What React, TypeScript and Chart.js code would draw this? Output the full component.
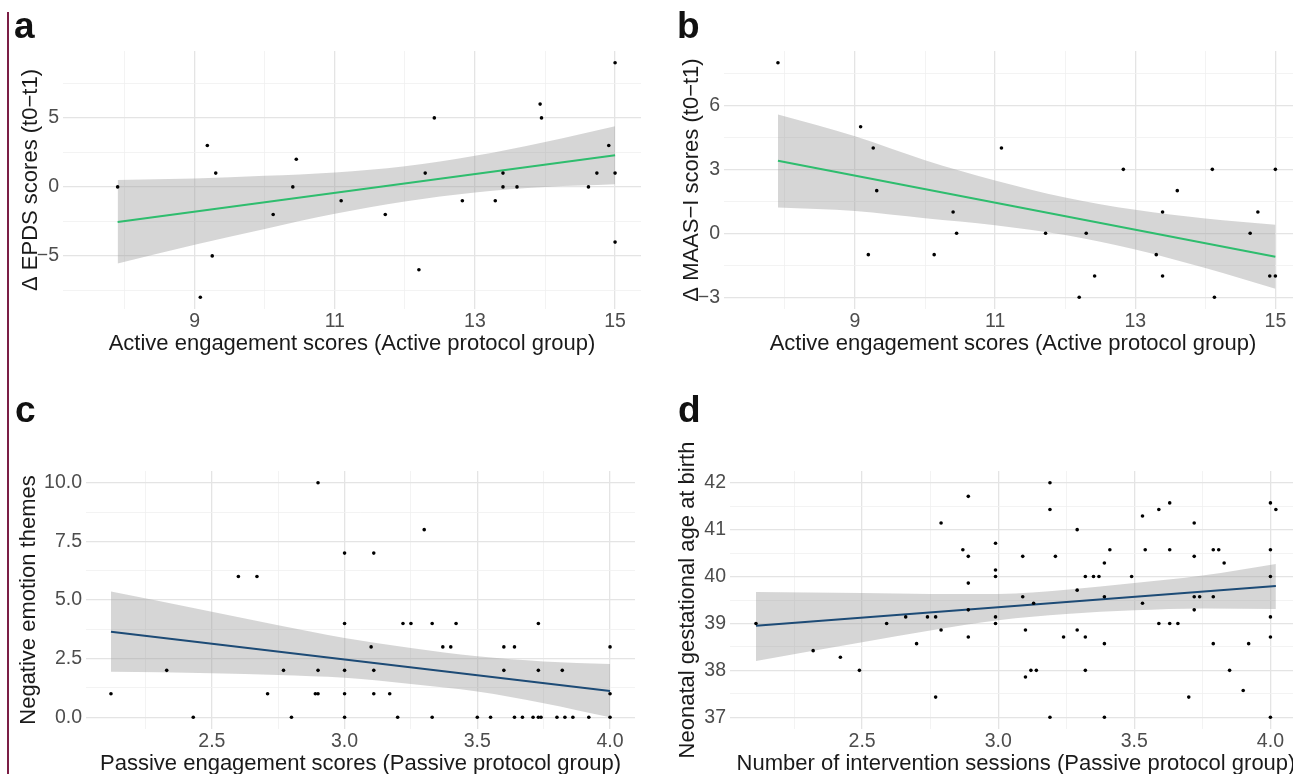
import React, { useEffect, useRef } from "react";
import { Chart, registerables } from "chart.js";

Chart.register(...registerables);

const FONT = '"Liberation Sans", Arial, Helvetica, sans-serif';
const TICK_COLOR = "#4d4d4d";
const TITLE_COLOR = "#1a1a1a";
const GRID_MAJOR = "#e4e4e4";
const GRID_MINOR = "#f0f0f0";
const BAND_COLOR = "rgba(153,153,153,0.4)";
const GREEN = "#2ebd6e";
const NAVY = "#1d4b76";

// ---------- Panel a ----------
const aX = [7.9, 9.08, 9.18, 9.25, 9.3, 10.12, 10.4, 10.45, 11.09, 11.72, 12.2, 12.29, 12.42, 12.82, 13.29, 13.4, 13.4, 13.6, 13.93, 13.95, 14.62, 14.74, 14.91, 15, 15, 15];
const aY = [0, -8, 3, -5, 1, -2, 0, 2, -1, -2, -6, 1, 5, -1, -1, 1, 0, 0, 6, 5, 0, 1, 3, 9, 1, -4];
const aFitX = [7.9, 15];
const aFitY = [-2.55, 2.3];
const aBandX = [7.9, 9, 10, 11, 12, 13, 14, 15];
const aUpper = [0.5, 0.6, 0.8, 1.05, 1.5, 2.25, 3.25, 4.4];
const aLower = [-5.55, -4.2, -3.05, -1.95, -1.05, -0.4, 0.0, 0.2];
const aXMajor = [9, 11, 13, 15];
const aXLabels = ["9", "11", "13", "15"];
const aXMinor = [8, 10, 12, 14];
const aYMajor = [-5, 0, 5];
const aYLabels = ["\u22125", "0", "5"];
const aYMinor = [-7.5, -2.5, 2.5, 7.5];

// ---------- Panel b ----------
const bX = [7.9, 9.08, 9.19, 9.26, 9.31, 10.13, 10.4, 10.45, 11.09, 11.72, 12.2, 12.3, 12.42, 12.83, 13.3, 13.39, 13.39, 13.6, 14.1, 14.13, 14.64, 14.75, 14.92, 15, 15];
const bY = [8, 5, -1, 4, 2, -1, 1, 0, 4, 0, -3, 0, -2, 3, -1, 1, -2, 2, 3, -3, 0, 1, -2, 3, -2];
const bFitX = [7.9, 15];
const bFitY = [3.4, -1.1];
const bBandX = [7.9, 9, 10, 11, 12, 13, 14, 15];
const bUpper = [5.57, 4.55, 3.43, 2.48, 1.68, 1.1, 0.69, 0.4];
const bLower = [1.21, 1.05, 0.71, 0.38, -0.08, -0.76, -1.63, -2.6];
const bXMajor = [9, 11, 13, 15];
const bXLabels = ["9", "11", "13", "15"];
const bXMinor = [8, 10, 12, 14];
const bYMajor = [-3, 0, 3, 6];
const bYLabels = ["\u22123", "0", "3", "6"];
const bYMinor = [-1.5, 1.5, 4.5, 7.5];

// ---------- Panel c ----------
const cX = [2.12, 2.33, 2.43, 2.6, 2.67, 2.71, 2.77, 2.8, 2.89, 2.9, 2.9, 2.9, 3.0, 3.0, 3.0, 3.0, 3.0, 3.1, 3.11, 3.11, 3.11, 3.17, 3.2, 3.22, 3.25, 3.3, 3.33, 3.33, 3.37, 3.4, 3.42, 3.5, 3.55, 3.6, 3.6, 3.64, 3.64, 3.67, 3.71, 3.73, 3.74, 3.73, 3.73, 3.8, 3.82, 3.83, 3.86, 3.92, 4.0, 4.0, 4.0];
const cY = [1, 2, 0, 6, 6, 1, 2, 0, 1, 1, 10, 2, 7, 4, 2, 1, 0, 3, 7, 2, 1, 1, 0, 4, 4, 8, 4, 0, 3, 3, 4, 0, 0, 3, 2, 3, 0, 0, 0, 0, 0, 4, 2, 0, 2, 0, 0, 0, 3, 1, 0];
const cFitX = [2.12, 4.0];
const cFitY = [3.65, 1.12];
const cBandX = [2.12, 2.5, 2.75, 3.0, 3.25, 3.5, 3.75, 4.0];
const cUpper = [5.36, 4.5, 3.92, 3.38, 2.95, 2.6, 2.38, 2.27];
const cLower = [1.94, 1.88, 1.8, 1.68, 1.42, 1.1, 0.6, 0.0];
const cXMajor = [2.5, 3.0, 3.5, 4.0];
const cXLabels = ["2.5", "3.0", "3.5", "4.0"];
const cXMinor = [2.25, 2.75, 3.25, 3.75];
const cYMajor = [0, 2.5, 5, 7.5, 10];
const cYLabels = ["0.0", "2.5", "5.0", "7.5", "10.0"];
const cYMinor = [1.25, 3.75, 6.25, 8.75];

// ---------- Panel d ----------
const dX = [2.11, 2.32, 2.42, 2.49, 2.59, 2.66, 2.7, 2.74, 2.77, 2.77, 2.79, 2.79, 2.87, 2.89, 2.89, 2.89, 2.89, 2.89, 2.99, 2.99, 2.99, 2.99, 2.99, 3.09, 3.09, 3.1, 3.1, 3.12, 3.14, 3.13, 3.19, 3.19, 3.19, 3.21, 3.24, 3.29, 3.29, 3.29, 3.32, 3.32, 3.32, 3.35, 3.37, 3.41, 3.39, 3.39, 3.39, 3.39, 3.49, 3.53, 3.53, 3.54, 3.59, 3.59, 3.63, 3.63, 3.63, 3.66, 3.7, 3.72, 3.72, 3.72, 3.74, 3.72, 3.79, 3.81, 3.79, 3.79, 3.83, 3.85, 3.9, 3.92, 4.0, 4.02, 4.0, 4.0, 4.0, 4.0, 4.0];
const dY = [39.0, 38.42, 38.28, 38.0, 39.0, 39.14, 38.57, 39.14, 39.14, 37.43, 41.14, 38.86, 40.57, 41.71, 40.43, 39.86, 39.29, 38.71, 40.71, 40.14, 40.0, 39.14, 39.0, 40.43, 39.57, 38.86, 37.86, 38.0, 38.0, 39.43, 42.0, 41.43, 37.0, 40.43, 38.71, 41.0, 39.71, 38.86, 38.71, 38.0, 40.0, 40.0, 40.0, 40.57, 40.29, 39.57, 38.57, 37.0, 40.0, 41.29, 39.43, 40.57, 41.43, 39.0, 41.57, 40.57, 39.0, 39.0, 37.43, 41.14, 40.43, 39.57, 39.57, 39.29, 40.57, 40.57, 39.57, 38.57, 40.29, 38.0, 37.57, 38.57, 41.57, 41.43, 40.57, 40.0, 39.14, 38.71, 37.0];
const dFitX = [2.11, 4.02];
const dFitY = [38.95, 39.8];
const dBandX = [2.11, 2.5, 2.75, 3.0, 3.25, 3.5, 3.75, 4.02];
const dUpper = [39.67, 39.65, 39.63, 39.63, 39.72, 39.86, 40.02, 40.27];
const dLower = [38.2, 38.6, 38.85, 39.07, 39.2, 39.28, 39.32, 39.31];
const dXMajor = [2.5, 3.0, 3.5, 4.0];
const dXLabels = ["2.5", "3.0", "3.5", "4.0"];
const dXMinor = [2.25, 2.75, 3.25, 3.75];
const dYMajor = [37, 38, 39, 40, 41, 42];
const dYLabels = ["37", "38", "39", "40", "41", "42"];
const dYMinor = [37.5, 38.5, 39.5, 40.5, 41.5];

type Spec = {
  left: number; top: number; width: number; height: number;
  yAxisWidth: number; xAxisHeight: number; padTop: number; padRight: number; yTitlePad: number;
  xMin: number; xMax: number; yMin: number; yMax: number;
  xMajor: number[]; xLabels: string[]; xMinor: number[];
  yMajor: number[]; yLabels: string[]; yMinor: number[];
  xTitle: string; yTitle: string;
  px: number[]; py: number[];
  fitX: number[]; fitY: number[];
  bandX: number[]; upper: number[]; lower: number[];
  lineColor: string;
};

const near = (a: number, b: number) => Math.abs(a - b) < 1e-6;
const labelFor = (v: number, major: number[], labels: string[]) => {
  const i = major.findIndex((m) => near(m, v));
  return i >= 0 ? labels[i] : "";
};

const SPECS: Spec[] = [
  {
    left: 0, top: 1, width: 671, height: 358, yAxisWidth: 63, xAxisHeight: 50, padTop: 50, padRight: 30, yTitlePad: 18,
    xMin: 7.12, xMax: 15.37, yMin: -8.85, yMax: 9.85,
    xMajor: aXMajor, xLabels: aXLabels, xMinor: aXMinor, yMajor: aYMajor, yLabels: aYLabels, yMinor: aYMinor,
    xTitle: "Active engagement scores (Active protocol group)", yTitle: "\u0394 EPDS scores (t0\u2212t1)",
    px: aX, py: aY, fitX: aFitX, fitY: aFitY, bandX: aBandX, upper: aUpper, lower: aLower, lineColor: GREEN,
  },
  {
    left: 643, top: 1, width: 689, height: 358, yAxisWidth: 81, xAxisHeight: 50, padTop: 50, padRight: 30, yTitlePad: 36,
    xMin: 7.13, xMax: 15.38, yMin: -3.55, yMax: 8.55,
    xMajor: bXMajor, xLabels: bXLabels, xMinor: bXMinor, yMajor: bYMajor, yLabels: bYLabels, yMinor: bYMinor,
    xTitle: "Active engagement scores (Active protocol group)", yTitle: "\u0394 MAAS\u2212I scores (t0\u2212t1)",
    px: bX, py: bY, fitX: bFitX, fitY: bFitY, bandX: bBandX, upper: bUpper, lower: bLower, lineColor: GREEN,
  },
  {
    left: 0, top: 421, width: 665, height: 358, yAxisWidth: 86, xAxisHeight: 50, padTop: 50, padRight: 30, yTitlePad: 16,
    xMin: 2.026, xMax: 4.094, yMin: -0.5, yMax: 10.5,
    xMajor: cXMajor, xLabels: cXLabels, xMinor: cXMinor, yMajor: cYMajor, yLabels: cYLabels, yMinor: cYMinor,
    xTitle: "Passive engagement scores (Passive protocol group)", yTitle: "Negative emotion themes",
    px: cX, py: cY, fitX: cFitX, fitY: cFitY, bandX: cBandX, upper: cUpper, lower: cLower, lineColor: NAVY,
  },
  {
    left: 643, top: 421, width: 689, height: 358, yAxisWidth: 87, xAxisHeight: 50, padTop: 50, padRight: 30, yTitlePad: 32,
    xMin: 2.0145, xMax: 4.116, yMin: 36.75, yMax: 42.25,
    xMajor: dXMajor, xLabels: dXLabels, xMinor: dXMinor, yMajor: dYMajor, yLabels: dYLabels, yMinor: dYMinor,
    xTitle: "Number of intervention sessions (Passive protocol group)", yTitle: "Neonatal gestational age at birth",
    px: dX, py: dY, fitX: dFitX, fitY: dFitY, bandX: dBandX, upper: dUpper, lower: dLower, lineColor: NAVY,
  },
];

function Panel({ spec }: { spec: Spec }) {
  const ref = useRef<HTMLCanvasElement | null>(null);
  useEffect(() => {
    const s = spec;
    const xTicks = [...s.xMajor, ...s.xMinor].sort((p, q) => p - q);
    const yTicks = [...s.yMajor, ...s.yMinor].sort((p, q) => p - q);
    const isMajor = (v: number, major: number[]) => major.some((m) => near(m, v));
    const chart = new Chart(ref.current as HTMLCanvasElement, {
      type: "scatter",
      data: {
        datasets: [
          {
            type: "line",
            data: s.bandX.map((x, i) => ({ x, y: s.upper[i] })),
            borderColor: "rgba(0,0,0,0)",
            borderWidth: 0,
            pointRadius: 0,
            fill: "+1",
            backgroundColor: BAND_COLOR,
            cubicInterpolationMode: "monotone",
            order: 3,
          } as any,
          {
            type: "line",
            data: s.bandX.map((x, i) => ({ x, y: s.lower[i] })),
            borderColor: "rgba(0,0,0,0)",
            borderWidth: 0,
            pointRadius: 0,
            fill: false,
            cubicInterpolationMode: "monotone",
            order: 4,
          } as any,
          {
            type: "line",
            data: s.fitX.map((x, i) => ({ x, y: s.fitY[i] })),
            borderColor: s.lineColor,
            borderWidth: 2,
            pointRadius: 0,
            fill: false,
            order: 2,
          } as any,
          {
            type: "scatter",
            data: s.px.map((x, i) => ({ x, y: s.py[i] })),
            pointRadius: 1.8,
            pointBackgroundColor: "#000",
            pointBorderWidth: 0,
            backgroundColor: "#000",
            borderWidth: 0,
            order: 1,
          } as any,
        ],
      },
      options: {
        responsive: false,
        animation: false,
        devicePixelRatio: 1,
        events: [],
        layout: { padding: { left: 0, right: s.padRight, top: s.padTop, bottom: 0 } },
        plugins: { legend: { display: false }, tooltip: { enabled: false }, title: { display: false } },
        scales: {
          x: {
            type: "linear",
            position: "bottom",
            min: s.xMin,
            max: s.xMax,
            afterBuildTicks: (sc: any) => {
              sc.ticks = xTicks.map((v) => ({ value: v }));
            },
            afterFit: (sc: any) => {
              sc.height = s.xAxisHeight;
            },
            ticks: {
              autoSkip: false,
              maxRotation: 0,
              minRotation: 0,
              padding: 1,
              color: TICK_COLOR,
              font: { family: FONT, size: 19.5 },
              callback: (v: any) => labelFor(Number(v), s.xMajor, s.xLabels),
            },
            grid: {
              drawTicks: false,
              color: (c: any) => (isMajor(c.tick.value, s.xMajor) ? GRID_MAJOR : GRID_MINOR),
              lineWidth: (c: any) => (isMajor(c.tick.value, s.xMajor) ? 1.3 : 0.8),
            },
            border: { display: false },
            title: {
              display: true,
              text: s.xTitle,
              color: TITLE_COLOR,
              font: { family: FONT, size: 22 },
              padding: { top: 0, bottom: 2 },
            },
          },
          y: {
            type: "linear",
            position: "left",
            min: s.yMin,
            max: s.yMax,
            afterBuildTicks: (sc: any) => {
              sc.ticks = yTicks.map((v) => ({ value: v }));
            },
            afterFit: (sc: any) => {
              sc.width = s.yAxisWidth;
            },
            ticks: {
              autoSkip: false,
              padding: 4,
              color: TICK_COLOR,
              font: { family: FONT, size: 19.5 },
              callback: (v: any) => labelFor(Number(v), s.yMajor, s.yLabels),
            },
            grid: {
              drawTicks: false,
              color: (c: any) => (isMajor(c.tick.value, s.yMajor) ? GRID_MAJOR : GRID_MINOR),
              lineWidth: (c: any) => (isMajor(c.tick.value, s.yMajor) ? 1.3 : 0.8),
            },
            border: { display: false },
            title: {
              display: true,
              text: s.yTitle,
              color: TITLE_COLOR,
              font: { family: FONT, size: 22 },
              padding: { top: s.yTitlePad, bottom: 0 },
            },
          },
        },
      } as any,
    });
    return () => chart.destroy();
  }, [spec]);
  return (
    <canvas
      ref={ref}
      width={spec.width}
      height={spec.height}
      style={{ position: "absolute", left: spec.left, top: spec.top, width: spec.width, height: spec.height }}
    />
  );
}

const LETTERS = [
  { t: "a", left: 14, top: 7 },
  { t: "b", left: 677, top: 7 },
  { t: "c", left: 15, top: 391 },
  { t: "d", left: 678, top: 391 },
];

export default function App() {
  return (
    <div
      style={{
        position: "fixed",
        left: 0,
        top: 0,
        width: 1293,
        height: 774,
        overflow: "hidden",
        background: "#ffffff",
      }}
    >
      <div style={{ position: "absolute", left: 7, top: 12, width: 2, height: 762, background: "#7b1e45" }} />
      {SPECS.map((s, i) => (
        <Panel key={i} spec={s} />
      ))}
      {LETTERS.map((l) => (
        <div
          key={l.t}
          style={{
            position: "absolute",
            left: l.left,
            top: l.top,
            fontFamily: FONT,
            fontWeight: 700,
            fontSize: 37,
            lineHeight: "37px",
            color: "#111",
          }}
        >
          {l.t}
        </div>
      ))}
    </div>
  );
}
